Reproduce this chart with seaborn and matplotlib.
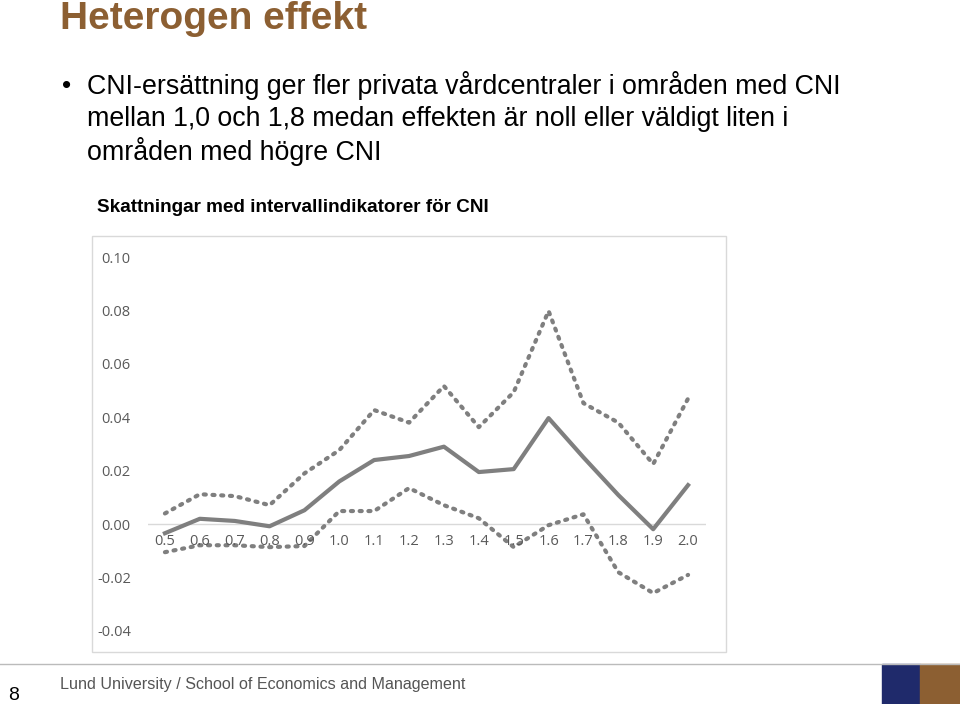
import matplotlib
matplotlib.use("Agg")
import matplotlib.pyplot as plt
import seaborn as sns
import pandas as pd
from matplotlib.patches import Rectangle

cni = [0.5,0.6,0.7,0.8,0.9,1.0,1.1,1.2,1.3,1.4,1.5,1.6,1.7,1.8,1.9,2.0]
estimate = [-0.0034,0.002,0.0012,-0.0008,0.0052,0.016,0.024,0.0255,0.029,0.0195,0.0206,0.0397,0.025,0.0109,-0.0019,0.0146]
upper = [0.004,0.0112,0.0105,0.0071,0.019,0.0277,0.0427,0.038,0.0517,0.0363,0.0494,0.0798,0.0453,0.038,0.0225,0.047]
lower = [-0.0105,-0.0079,-0.0079,-0.0086,-0.0082,0.0049,0.0049,0.0135,0.0071,0.0022,-0.0086,-0.0004,0.0037,-0.018,-0.0258,-0.019]
yticks = [-0.04,-0.02,0.00,0.02,0.04,0.06,0.08,0.10]

df = pd.DataFrame({"cni": cni, "est": estimate, "up": upper, "lo": lower})

fig = plt.figure(figsize=(9.6, 7.04), dpi=100)
brown = "#8c5f32"
fig.text(60/960, 1-19/704, "Heterogen effekt", fontsize=28, fontweight="bold", color=brown, va="center", family="Liberation Sans")
fig.text(62/960, 1-86/704, "•", fontsize=19, va="center", family="Liberation Sans")
lines = ["CNI-ersättning ger fler privata vårdcentraler i områden med CNI",
         "mellan 1,0 och 1,8 medan effekten är noll eller väldigt liten i",
         "områden med högre CNI"]
for i, t in enumerate(lines):
    fig.text(87/960, 1-(86+33*i)/704, t, fontsize=19.3, va="center", family="Liberation Sans")
fig.text(97/960, 1-208/704, "Skattningar med intervallindikatorer för CNI", fontsize=13.6, fontweight="bold", va="center", family="Liberation Sans")

fig.add_artist(Rectangle((92/960, 1-652/704), 634/960, 416/704, transform=fig.transFigure,
                         fill=False, edgecolor="#d9d9d9", lw=1))

ax = fig.add_axes([147.5/960, 1-631/704, 558/960, 374/704])
gray = "#7f7f7f"
sns.lineplot(data=df, x="cni", y="up", ax=ax, color=gray, lw=3, linestyle=(0, (0.5, 1.6)), dash_capstyle="round")
sns.lineplot(data=df, x="cni", y="lo", ax=ax, color=gray, lw=3, linestyle=(0, (0.5, 1.6)), dash_capstyle="round")
sns.lineplot(data=df, x="cni", y="est", ax=ax, color=gray, lw=3)
ax.set_xlim(0.45, 2.05)
ax.set_ylim(-0.04, 0.10)
ax.set_yticks(yticks)
ax.set_yticklabels([f"{v:.2f}" for v in yticks], fontsize=10.5, color="#595959", family="Open Sans")
ax.tick_params(axis="y", length=0, pad=12)
ax.set_xticks([])
ax.set_xlabel(""); ax.set_ylabel("")
for s in ax.spines.values():
    s.set_visible(False)
ax.axhline(0, color="#d9d9d9", lw=1, zorder=0)
for x in cni:
    ax.text(x, -0.0065, f"{x:.1f}", ha="center", va="center", fontsize=10.5, color="#595959", family="Open Sans")

fig.add_artist(plt.Line2D([0, 1], [1-664/704]*2, color="#bbbbbb", lw=1, transform=fig.transFigure))
fig.text(60/960, 1-685/704, "Lund University / School of Economics and Management", fontsize=11.6, color="#555555", va="center", family="Liberation Sans")
fig.text(8/960, 1-696/704, "8", fontsize=14, va="center", family="Liberation Sans")
fig.add_artist(Rectangle((882/960, 0), 38/960, 40/704, transform=fig.transFigure, color="#1f2a6b"))
fig.add_artist(Rectangle((920/960, 0), 40/960, 40/704, transform=fig.transFigure, color="#8c5f32"))

fig.savefig("out.png", dpi=100)
